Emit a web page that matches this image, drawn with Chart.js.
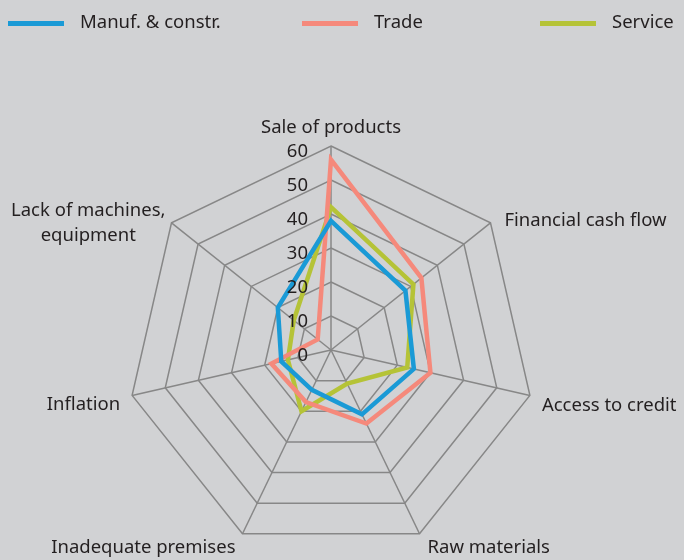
<!DOCTYPE html>
<html>
<head>
<meta charset="utf-8">
<script src="https://cdn.jsdelivr.net/npm/chart.js@4/dist/chart.umd.min.js"></script>
<style>
  html, body { margin: 0; padding: 0; background: #d1d2d4; }
  #wrap { position: relative; width: 684px; height: 560px; }
  #legend { position: absolute; left: 0; top: 0; width: 684px; height: 40px;
            font-family: "Noto Sans", sans-serif; font-size: 18.5px; color: #231f20; }
  .item { position: absolute; top: 9px; height: 24px; line-height: 24px; white-space: nowrap; }
  .item .ln { display: inline-block; width: 56px; height: 5px; vertical-align: middle; margin-right: 16px; }
</style>
</head>
<body>
<div id="wrap">
  <canvas id="radarChart"></canvas>
  <div id="legend"></div>
</div>
<script>
// categories (axes)
var categories = ["Sale of products", "Financial cash flow", "Access to credit", "Raw materials",
                  "Inadequate premises", "Inflation", ["Lack of machines,", "equipment"]];
// series values (%)
var manufValues  = [38, 28, 25, 21, 13, 15, 20];
var tradeValues  = [56, 34, 30, 24, 17, 18, 5];
var serviceValues = [42, 31, 23, 11, 20, 13, 14];
// series names
var seriesNames = ["Manuf. & constr.", "Trade", "Service"];
// tick labels
var tickValues = [0, 10, 20, 30, 40, 50, 60];

var colors = ["#1a9ad6", "#f5897b", "#b5c337"];
var textColor = "#231f20";
var fontStr = '18.5px "Noto Sans", sans-serif';

// legend (HTML)
var legendLeft = [8, 302, 540];
var legend = document.getElementById("legend");
seriesNames.forEach(function (name, i) {
    var d = document.createElement("div");
    d.className = "item";
    d.style.left = legendLeft[i] + "px";
    d.innerHTML = '<span class="ln" style="background:' + colors[i] + '"></span>' + name;
    legend.appendChild(d);
});

// label offsets from the outer vertex: [dx, dy, align]
var labelPlace = [
    [0, -18, "center"],
    [14, -2, "left"],
    [12, 10, "left"],
    [8, 14, "left"],
    [-7, 14, "right"],
    [-12, 9, "right"],
    [-6, 0, "block"]
];

var labelPlugin = {
    id: "labelPlugin",
    afterDraw: function (chart) {
        var scale = chart.scales.r;
        var ctx = chart.ctx;
        ctx.save();
        ctx.font = fontStr;
        ctx.fillStyle = textColor;
        ctx.textBaseline = "middle";
        // tick labels, right-aligned left of the vertical axis
        ctx.textAlign = "right";
        tickValues.forEach(function (v) {
            var d = scale.getDistanceFromCenterForValue(v);
            ctx.fillText(String(v), scale.xCenter - 23, scale.yCenter - d + 6);
        });
        // point labels
        categories.forEach(function (lab, i) {
            var p = scale.getPointPosition(i, scale.drawingArea);
            var pl = labelPlace[i];
            var x = p.x + pl[0], y = p.y + pl[1];
            if (pl[2] === "block") {
                var lines = Array.isArray(lab) ? lab : [lab];
                var w = Math.max.apply(null, lines.map(function (l) { return ctx.measureText(l).width; }));
                ctx.textAlign = "center";
                var lh = 25;
                lines.forEach(function (l, k) {
                    ctx.fillText(l, x - w / 2, y + (k - (lines.length - 1) / 2) * lh);
                });
            } else {
                ctx.textAlign = pl[2];
                ctx.fillText(Array.isArray(lab) ? lab.join(" ") : lab, x, y);
            }
        });
        ctx.restore();
    }
};

Chart.defaults.font.family = '"Noto Sans", sans-serif';

var ctx = document.getElementById("radarChart");
var radarChart = new Chart(ctx, {
    type: "radar",
    data: {
        labels: categories,
        datasets: [manufValues, tradeValues, serviceValues].map(function (vals, i) {
            return {
                label: seriesNames[i],
                data: vals,
                borderColor: colors[i],
                backgroundColor: "rgba(0,0,0,0)",
                borderWidth: 4.5,
                borderJoinStyle: "miter",
                pointRadius: 0,
                pointHoverRadius: 0,
                fill: false
            };
        })
    },
    options: {
        responsive: true,
        maintainAspectRatio: false,
        animation: false,
        layout: { padding: { left: 127, right: 148, top: 146, bottom: 6 } },
        plugins: {
            legend: { display: false },
            tooltip: { enabled: false }
        },
        scales: {
            r: {
                min: 0,
                max: 60,
                ticks: { stepSize: 10, display: false },
                pointLabels: { display: false },
                grid: { color: "#878787", lineWidth: 1.5, circular: false },
                angleLines: { color: "#878787", lineWidth: 1.5 }
            }
        }
    },
    plugins: [labelPlugin]
});
</script>
</body>
</html>
